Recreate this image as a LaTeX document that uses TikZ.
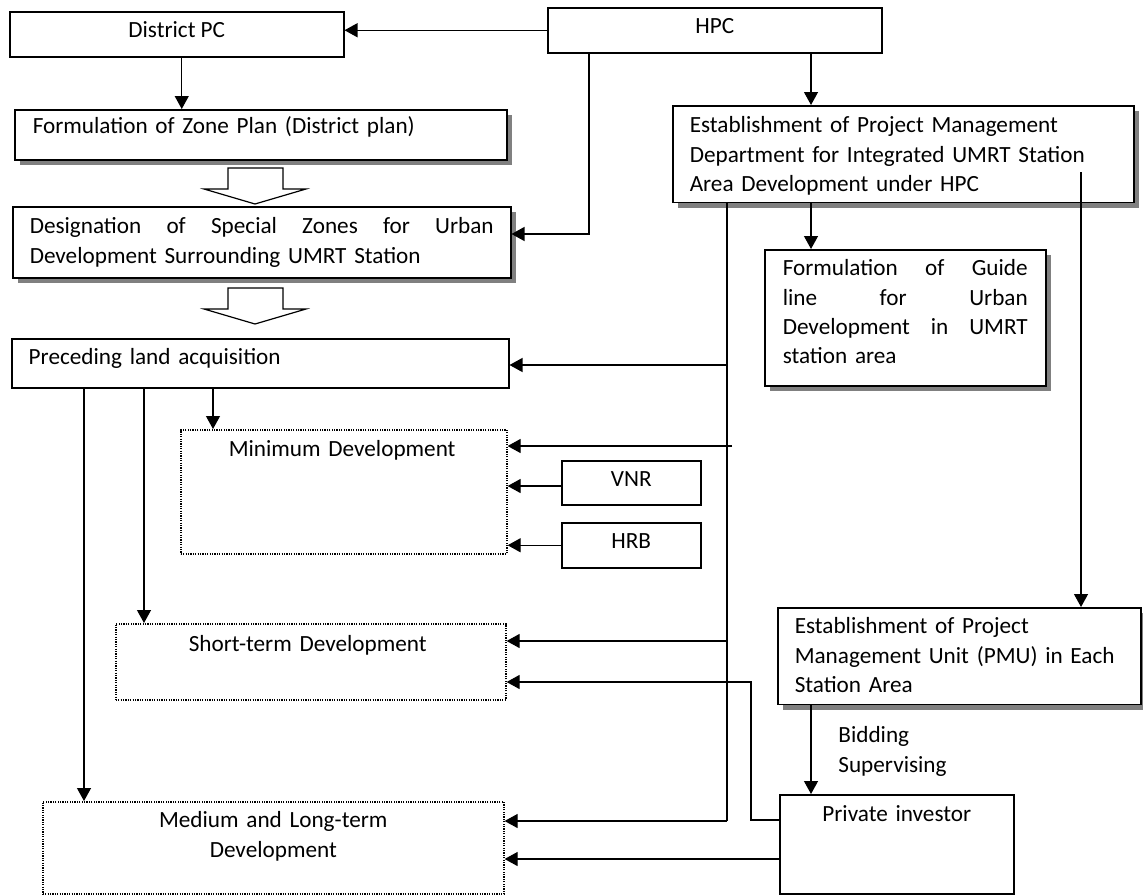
\documentclass[tikz,border=0pt]{standalone}
\usepackage{fontspec}
\setmainfont{Carlito}
\usetikzlibrary{arrows.meta,shadows}

% a line spread over a given width, its words separated by \hfill
\newcommand{\spreadrow}[2]{\leavevmode\hbox to #1{#2}}

\begin{document}
\begin{tikzpicture}[x=0.5pt,y=-0.5pt,
  every node/.style={font=\fontsize{11.6pt}{14.7pt}\selectfont},
  box/.style={draw, line width=0.75pt, fill=white, rectangle, inner ysep=0pt, anchor=north west},
  shbox/.style={box, drop shadow={shadow xshift=2.5pt, shadow yshift=-2.5pt, opacity=1, fill=black!50}},
  dotbox/.style={draw, line width=0.8pt, dash pattern=on 0.6pt off 0.6pt, rectangle, inner ysep=0pt, anchor=north west},
  lefttext/.style={align=left},
  arr/.style={line width=0.6pt, -{Triangle[length=6.5pt,width=7pt]}},
  ln/.style={line width=0.6pt},
  blockarrow/.style={draw, line width=0.6pt, fill=white}
]
\useasboundingbox (0,0) rectangle (1143,894);

% ---- boxes of the left column ----
\node[box, minimum width=167pt, inner xsep=0pt, text height=13pt, text depth=9.5pt] (dpc) at (9,11) {District PC};
\node[box, minimum width=167pt, inner xsep=0pt, text height=13pt, text depth=9.5pt] (hpc) at (547,7) {HPC};

\node[shbox, lefttext, inner xsep=9pt, text width=228pt, text height=12pt, text depth=13pt] (zone) at (14,109)
  {Formulation of Zone Plan (District plan)};

\node[shbox, lefttext, inner xsep=8.5pt, text width=232pt, text height=13.5pt, text depth=22.2pt] (desig) at (12,206)
  {\spreadrow{232pt}{Designation\hfill of\hfill Special\hfill Zones\hfill for\hfill Urban}\\Development Surrounding UMRT Station};

\node[box, lefttext, inner xsep=8.5pt, text width=231.5pt, text height=13pt, text depth=11.5pt] (prec) at (11,338)
  {Preceding land acquisition};

\node[dotbox, lefttext, inner xsep=24pt, text width=115pt, text height=13.5pt, text depth=48.5pt] (mind) at (180,429)
  {Minimum Development};

\node[box, minimum width=69.5pt, inner xsep=0pt, text height=13pt, text depth=9pt] (vnr) at (561,460) {VNR};
\node[box, minimum width=69.5pt, inner xsep=0pt, text height=13pt, text depth=9.5pt] (hrb) at (561,522) {HRB};

\node[dotbox, lefttext, inner xsep=36.5pt, text width=122pt, text height=14pt, text depth=24pt] (shortd) at (115,623)
  {Short-term Development};

\node[dotbox, align=center, inner xsep=0pt, text width=230.5pt, text height=13pt, text depth=33.2pt] (medd) at (42,801)
  {Medium and Long-term\\Development};

% ---- boxes of the right column ----
\node[shbox, lefttext, inner xsep=8.5pt, text width=213.5pt, text height=13.5pt, text depth=34.9pt] (estab) at (672,105)
  {Establishment of Project Management\\Department for Integrated UMRT Station\\Area Development under HPC};

\node[shbox, lefttext, inner xsep=9pt, text width=122.5pt, text height=13pt, text depth=55.1pt] (guide) at (764,249)
  {\spreadrow{122.5pt}{Formulation\hfill of\hfill Guide}\\
   \spreadrow{122.5pt}{line\hfill for\hfill Urban}\\
   \spreadrow{122.5pt}{Development\hfill in\hfill UMRT}\\
   station area};

\node[shbox, lefttext, inner xsep=8.5pt, text width=164.5pt, text height=13pt, text depth=35.4pt] (pmu) at (777,607)
  {Establishment of Project\\Management Unit (PMU) in Each\\Station Area};

\node[box, align=center, inner xsep=0pt, text width=117pt, text height=13.5pt, text depth=36pt] (priv) at (779,794)
  {Private investor};

\node[lefttext, anchor=north west, inner sep=0pt, text width=60pt, text height=13pt, text depth=18pt] (bid) at (838,716.5)
  {Bidding\\Supervising};

% ---- hollow block arrows between the planning steps ----
\draw[blockarrow] (228,168) -- (283,168) -- (283,189) -- (306,189) -- (255,204) -- (204,189) -- (228,189) -- cycle;
\draw[blockarrow] (228,288) -- (283,288) -- (283,309) -- (306,309) -- (255,324) -- (204,309) -- (228,309) -- cycle;

% ---- helper coordinates for bends and branch points ----
\coordinate (hc) at (589,234);
\coordinate (xm) at (811,0);
\coordinate (pr) at (1081,172);
\coordinate (sp) at (727,821);
\coordinate (s1) at (727,365);
\coordinate (s2) at (732,446);
\coordinate (s3) at (727,641);
\coordinate (pa) at (213,0);
\coordinate (pb) at (144,0);
\coordinate (pc) at (84,0);
\coordinate (vb) at (751,820);
\coordinate (vt) at (751,682);
\coordinate (pm) at (0,859);
\coordinate (vy) at (0,486);

% ---- connectors ----
\draw[arr] (hpc.west) -- (hpc.west -| dpc.east);
\draw[arr] ([xshift=2.5pt]dpc.south) -- ([xshift=2.5pt]dpc.south |- zone.north);
\draw[arr] (hpc.south -| hc) -- (hc) -- (hc -| desig.east);
\draw[arr] (hpc.south -| xm) -- (estab.north -| xm);
\draw[arr] (estab.south -| xm) -- (guide.north -| xm);
\draw[arr] (pr) -- (pr |- pmu.north);

\draw[ln] (estab.south -| sp) -- (sp);
\draw[arr] (s1) -- (s1 -| prec.east);
\draw[arr] (s2) -- (s2 -| mind.east);
\draw[arr] (s3) -- (s3 -| shortd.east);
\draw[arr] (sp) -- (sp -| medd.east);

\draw[arr] (vnr.west |- vy) -- (vy -| mind.east);
\draw[arr] (hrb.west) -- (hrb.west -| mind.east);

\draw[arr] (prec.south -| pa) -- (mind.north -| pa);
\draw[arr] (prec.south -| pb) -- (shortd.north -| pb);
\draw[arr] (prec.south -| pc) -- (medd.north -| pc);

\draw[arr] (priv.west |- vb) -- (vb) -- (vt) -- (vt -| shortd.east);
\draw[arr] (priv.west |- pm) -- (pm -| medd.east);
\draw[arr] (pmu.south -| xm) -- (priv.north -| xm);

\end{tikzpicture}
\end{document}
